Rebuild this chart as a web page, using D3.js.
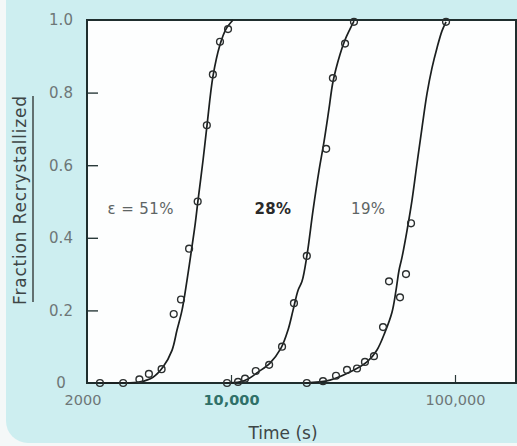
<!DOCTYPE html>
<html>
<head>
<meta charset="utf-8">
<script src="https://d3js.org/d3.v7.min.js"></script>
<style>
  body { margin: 0; background: #f4f8f8; }
  svg { display: block; }
  text { font-family: "DejaVu Sans", sans-serif; }
</style>
</head>
<body>
<script>
// Fraction recrystallized vs. time, three strains

// measured points: time (s), fraction
var time51 = [2600, 3300, 3900, 4300, 4900, 5550, 5980, 6500, 7100, 7800, 8300, 8930, 9700];
var frac51 = [0, 0, 0.01, 0.025, 0.038, 0.19, 0.23, 0.37, 0.50, 0.71, 0.85, 0.94, 0.975];

var time28 = [9600, 10750, 11550, 12900, 14800, 16900, 19100, 21800, 26600, 28500, 32300, 35400];
var frac28 = [0, 0.003, 0.012, 0.033, 0.05, 0.10, 0.22, 0.35, 0.645, 0.84, 0.935, 0.995];

var time19 = [21800, 25750, 29430, 32950, 36520, 39630, 43470, 47720, 50750, 56820, 60430, 63630, 91200];
var frac19 = [0, 0.005, 0.02, 0.036, 0.04, 0.058, 0.074, 0.154, 0.28, 0.236, 0.30, 0.44, 0.995];

// fitted curves
var fitTime51 = [2600, 3195, 3926, 4485, 4971, 5453, 5741, 6042, 6361, 6628, 6907, 7124, 7499, 7812, 8313, 8930, 9500, 10207];
var fitFrac51 = [0, 0, 0.003, 0.016, 0.044, 0.09, 0.146, 0.20, 0.283, 0.357, 0.434, 0.503, 0.613, 0.709, 0.846, 0.932, 0.975, 1.0];

var fitTime28 = [9401, 10970, 11910, 13197, 14930, 16720, 17970, 18915, 19910, 20750, 21838, 23230, 24710, 26020, 27380, 28530, 30660, 32272, 33970, 35404];
var fitFrac28 = [0, 0.003, 0.011, 0.030, 0.055, 0.096, 0.146, 0.20, 0.255, 0.28, 0.352, 0.475, 0.585, 0.665, 0.755, 0.83, 0.905, 0.945, 0.975, 0.997];

var fitTime19 = [21400, 27670, 33970, 40470, 44850, 48700, 52330, 54530, 56230, 57990, 61060, 64270, 67650, 71230, 74990, 78950, 83100, 87500, 91200];
var fitFrac19 = [0, 0.008, 0.030, 0.058, 0.091, 0.140, 0.195, 0.255, 0.310, 0.346, 0.420, 0.503, 0.604, 0.703, 0.797, 0.868, 0.923, 0.970, 0.995];

var strainLabels = ["\u03b5 = 51%", "28%", "19%"];
var labelTimes = [3950, 15400, 41000];

var xTicks = [2000, 10000, 100000];
var xTickLabels = ["2000", "10,000", "100,000"];
var yTicks = [0, 0.2, 0.4, 0.6, 0.8, 1.0];
var yTickLabels = ["0", "0.2", "0.4", "0.6", "0.8", "1.0"];

// layout of the svg
var w = 517;
var h = 446;
var left = 87;
var right = 516;
var top_ = 20;
var bottom = 383;

var svg = d3.select("body")
            .append("svg")
            .attr("width", w)
            .attr("height", h);

// cyan card behind everything
svg.append("rect")
   .attr("x", 6).attr("y", -30)
   .attr("width", w + 20).attr("height", h + 27)
   .attr("rx", 22)
   .attr("fill", "#cdeef0");

// white plotting area
svg.append("rect")
   .attr("x", left).attr("y", top_)
   .attr("width", right - left).attr("height", bottom - top_)
   .attr("fill", "#fdfefe");

// log time scale, 10,000 at x=231 and 100,000 at x=455
var decade = 224;
var xScale = d3.scaleLog()
               .domain([Math.pow(10, 4 - (231 - left) / decade), Math.pow(10, 5 + (right - 455) / decade)])
               .range([left, right]);

var yScale = d3.scaleLinear()
               .domain([0, 1])
               .range([bottom, top_]);

// axes with inward ticks
var xAxis = d3.axisBottom(xScale)
              .tickValues(xTicks)
              .tickFormat(function(d, i) { return xTickLabels[i]; })
              .tickSizeInner(-8)
              .tickSizeOuter(0)
              .tickPadding(12);

var gx = svg.append("g")
            .attr("transform", "translate(0," + bottom + ")")
            .call(xAxis);
gx.select(".domain").remove();
gx.selectAll(".tick line")
  .attr("stroke", "#2a3a3a")
  .attr("stroke-width", 1.2)
  .attr("display", function(d) { return d < xScale.domain()[0] ? "none" : null; });
gx.selectAll(".tick text")
  .attr("font-size", 14.5)
  .attr("fill", function(d) { return d == 10000 ? "#2f7068" : "#6d7777"; })
  .attr("font-weight", function(d) { return d == 10000 ? "bold" : "normal"; })
  .attr("dx", function(d) { return d < xScale.domain()[0] ? 8 : 0; });

var yAxis = d3.axisLeft(yScale)
              .tickValues(yTicks)
              .tickFormat(function(d, i) { return yTickLabels[i]; })
              .tickSizeInner(-11)
              .tickSizeOuter(0)
              .tickPadding(26);

var gy = svg.append("g")
            .attr("transform", "translate(" + left + ",0)")
            .call(yAxis);
gy.select(".domain").remove();
gy.selectAll(".tick line")
  .attr("stroke", "#2a3a3a")
  .attr("stroke-width", 1.4)
  .attr("display", function(d) { return d == 0 || d == 1 ? "none" : null; });
gy.selectAll(".tick text")
  .attr("text-anchor", "middle")
  .attr("font-size", 15)
  .attr("fill", "#6d7777");

// frame
svg.append("rect")
   .attr("x", left).attr("y", top_)
   .attr("width", right - left).attr("height", bottom - top_)
   .attr("fill", "none")
   .attr("stroke", "#1f2e2e")
   .attr("stroke-width", 2);

// fitted curves
var line = d3.line()
             .x(function(d) { return xScale(d[0]); })
             .y(function(d) { return yScale(d[1]); })
             .curve(d3.curveCatmullRom.alpha(0.5));

var fits = [d3.zip(fitTime51, fitFrac51), d3.zip(fitTime28, fitFrac28), d3.zip(fitTime19, fitFrac19)];
svg.selectAll(".fit")
   .data(fits)
   .enter()
   .append("path")
   .attr("class", "fit")
   .attr("d", line)
   .attr("fill", "none")
   .attr("stroke", "#1b1f1f")
   .attr("stroke-width", 1.7);

// measured points
var points = d3.zip(time51, frac51)
               .concat(d3.zip(time28, frac28))
               .concat(d3.zip(time19, frac19));
svg.selectAll("circle")
   .data(points)
   .enter()
   .append("circle")
   .attr("cx", function(d) { return xScale(d[0]); })
   .attr("cy", function(d) { return yScale(d[1]); })
   .attr("r", 3.4)
   .attr("fill", "none")
   .attr("stroke", "#2b2f2f")
   .attr("stroke-width", 1.4);

// strain labels
svg.selectAll(".strain")
   .data(strainLabels)
   .enter()
   .append("text")
   .attr("class", "strain")
   .attr("x", function(d, i) { return xScale(labelTimes[i]); })
   .attr("y", yScale(0.465))
   .attr("text-anchor", "middle")
   .attr("font-size", 15)
   .attr("letter-spacing", 0.4)
   .attr("font-weight", function(d, i) { return i == 1 ? "bold" : "normal"; })
   .attr("fill", function(d, i) { return i == 1 ? "#2a2a2a" : "#5e6565"; })
   .text(function(d) { return d; });

// axis titles
svg.append("text")
   .attr("x", 283).attr("y", 439)
   .attr("text-anchor", "middle")
   .attr("font-size", 17)
   .attr("fill", "#3e4646")
   .text("Time (s)");

svg.append("text")
   .attr("transform", "translate(26,200) rotate(-90)")
   .attr("text-anchor", "middle")
   .attr("font-size", 17)
   .attr("letter-spacing", 0.8)
   .attr("fill", "#3e4646")
   .text("Fraction Recrystallized");

svg.append("line")
   .attr("x1", 33).attr("x2", 33)
   .attr("y1", 96).attr("y2", 302)
   .attr("stroke", "#3e4646")
   .attr("stroke-width", 1.5);
</script>
</body>
</html>
